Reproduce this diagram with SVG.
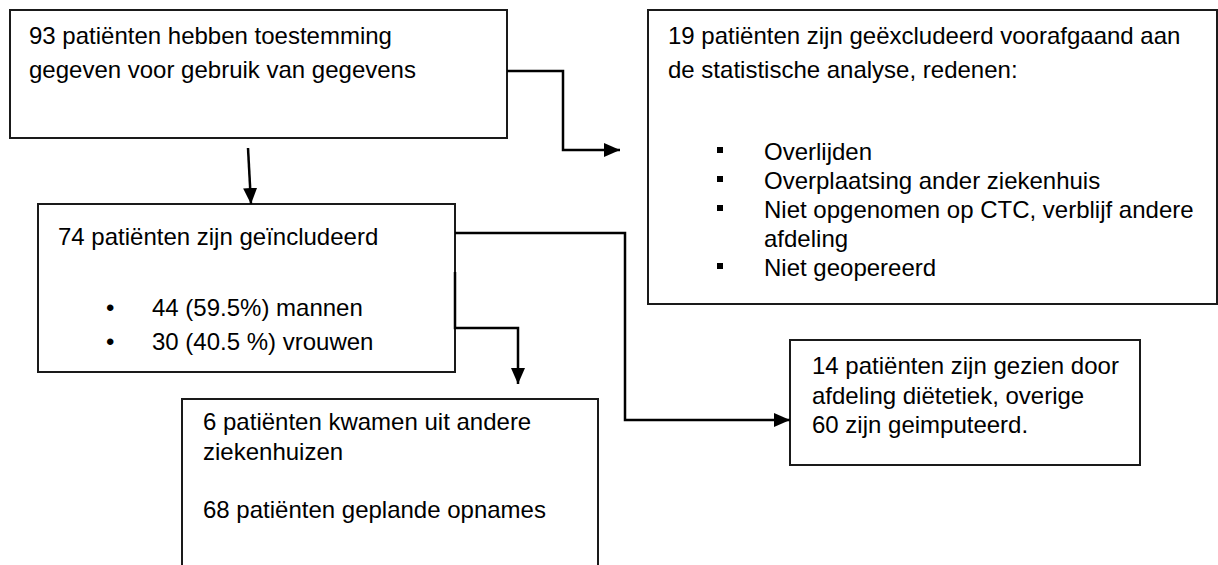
<svg xmlns="http://www.w3.org/2000/svg" width="1218" height="565" viewBox="0 0 1218 565">
<style>
.box{fill:#fff;stroke:#1a1a1a;stroke-width:2}
.t{font-family:"Liberation Sans",Arial,sans-serif;font-size:24px;fill:#000}
.c{fill:none;stroke:#000;stroke-width:2.5}
</style>
<defs>
<marker id="ah" viewBox="0 0 16 14" refX="16" refY="7" markerWidth="16" markerHeight="14" markerUnits="userSpaceOnUse" orient="auto">
<path d="M0,0 L16,7 L0,14 Z" fill="#000"/>
</marker>
</defs>
<rect width="1218" height="565" fill="#fff"/>
<g id="n1">
<rect class="box" x="10" y="10" width="497" height="128"/>
<text class="t" x="29" y="44">93 patiënten hebben toestemming</text>
<text class="t" x="29" y="78">gegeven voor gebruik van gegevens</text>
</g>
<g id="n2">
<rect class="box" x="648" y="10" width="569" height="294"/>
<text class="t" x="668" y="44">19 patiënten zijn geëxcludeerd voorafgaand aan</text>
<text class="t" x="668" y="78">de statistische analyse, redenen:</text>
<rect x="717" y="147" width="6" height="6" fill="#000"/>
<text class="t" x="764" y="160">Overlijden</text>
<rect x="717" y="176" width="6" height="6" fill="#000"/>
<text class="t" x="764" y="189">Overplaatsing ander ziekenhuis</text>
<rect x="717" y="205" width="6" height="6" fill="#000"/>
<text class="t" x="764" y="218">Niet opgenomen op CTC, verblijf andere</text>
<text class="t" x="764" y="247">afdeling</text>
<rect x="717" y="263" width="6" height="6" fill="#000"/>
<text class="t" x="764" y="276">Niet geopereerd</text>
</g>
<g id="n3">
<rect class="box" x="38" y="204" width="417" height="168"/>
<text class="t" x="58" y="245">74 patiënten zijn geïncludeerd</text>
<text class="t" x="106" y="316">•</text>
<text class="t" x="152" y="316">44 (59.5%) mannen</text>
<text class="t" x="106" y="350">•</text>
<text class="t" x="152" y="350">30 (40.5 %) vrouwen</text>
</g>
<g id="n4">
<rect class="box" x="790" y="340" width="350" height="125"/>
<text class="t" x="812" y="374">14 patiënten zijn gezien door</text>
<text class="t" x="812" y="404">afdeling diëtetiek, overige</text>
<text class="t" x="812" y="433">60 zijn geimputeerd.</text>
</g>
<g id="n5">
<path class="box" d="M182,575 V399 H598 V575"/>
<text class="t" x="203" y="430">6 patiënten kwamen uit andere</text>
<text class="t" x="203" y="460">ziekenhuizen</text>
<text class="t" x="203" y="518">68 patiënten geplande opnames</text>
</g>
<g id="connectors">
<path class="c" d="M507,71 H563 V150 H620" marker-end="url(#ah)"/>
<path class="c" d="M248,148 L251,204" marker-end="url(#ah)"/>
<path class="c" d="M455,233 H625 V420 H790" marker-end="url(#ah)"/>
<path class="c" d="M455,272 V328 H518 V384" marker-end="url(#ah)"/>
</g>
</svg>
